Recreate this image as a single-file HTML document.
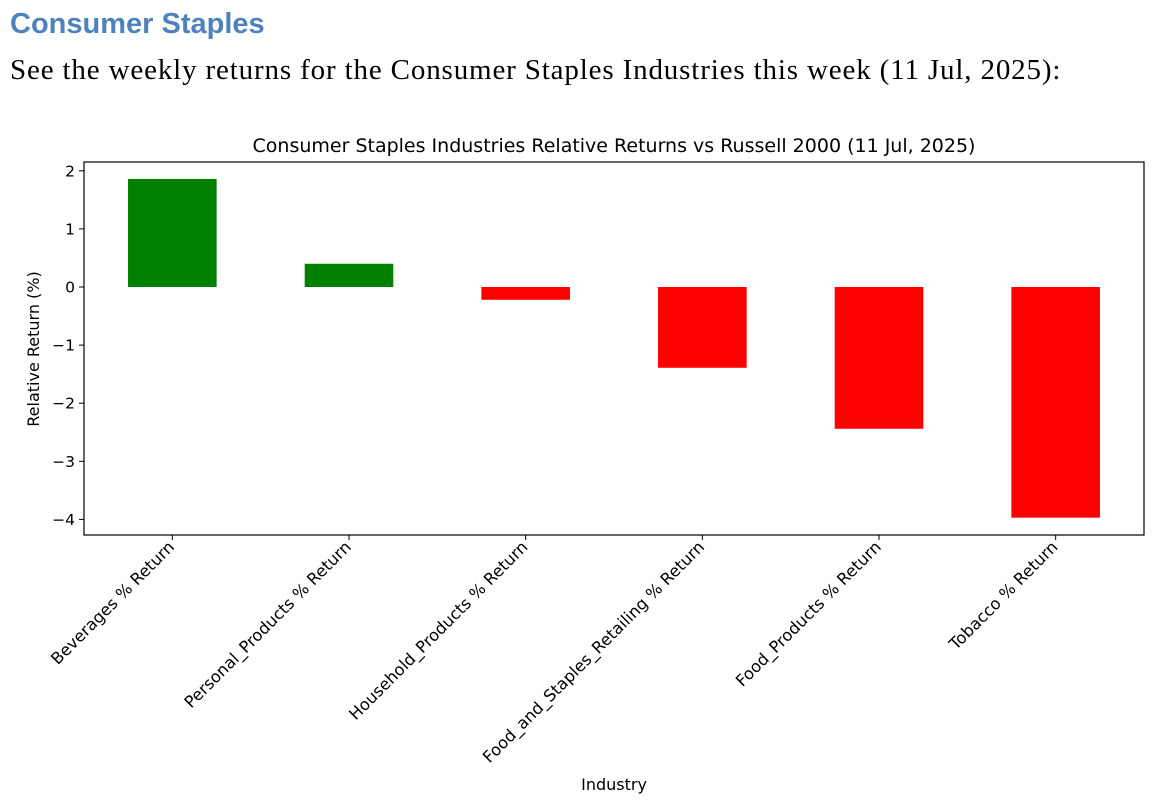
<!DOCTYPE html>
<html><head><meta charset="utf-8"><style>
body{margin:0;background:#fff;width:1160px;height:806px;overflow:hidden;position:relative}
#h{position:absolute;left:10px;top:8px;font:bold 29px "Liberation Sans",sans-serif;color:#4f81bd;margin:0}
#s{position:absolute;left:10px;top:54px;font:29px "Liberation Serif",serif;letter-spacing:0.85px;color:#000;margin:0;white-space:nowrap}
svg{position:absolute;left:0;top:0}
text{font-family:"DejaVu Sans","Liberation Sans",sans-serif;fill:#000}
</style></head><body>
<h1 id="h">Consumer Staples</h1>
<p id="s">See the weekly returns for the Consumer Staples Industries this week (11 Jul, 2025):</p>
<svg id="c" width="1160" height="806"></svg>
<script>
const categories=["Beverages % Return","Personal_Products % Return","Household_Products % Return","Food_and_Staples_Retailing % Return","Food_Products % Return","Tobacco % Return"];
const values=[1.86,0.40,-0.22,-1.39,-2.44,-3.97];
const yTicks=[2,1,0,-1,-2,-3,-4];
const yTickLabels=["2","1","0","\u22121","\u22122","\u22123","\u22124"];
const NS="http://www.w3.org/2000/svg",svg=document.getElementById('c');
const L=84,R=1144,T=162,B=535,y0=287,unit=58.1;
const y=v=>y0-v*unit;
const step=(R-L)/categories.length;
const x=i=>L+step*(i+0.5);
const bw=88.6;
function mk(t,a,txt){const e=document.createElementNS(NS,t);for(const k in a)e.setAttribute(k,a[k]);if(txt!=null)e.textContent=txt;svg.appendChild(e);return e;}
values.forEach((v,i)=>{
 const r=mk('rect',{x:x(i)-bw/2,y:Math.min(y(v),y(0)),width:bw,height:Math.abs(y(v)-y(0)),fill:v>=0?'#008000':'#ff0000'});
 
 
});
mk('rect',{x:L,y:T,width:R-L,height:B-T,fill:'none',stroke:'#000','stroke-width':1.2});
yTicks.forEach((t,i)=>{
 mk('line',{x1:L-5,x2:L,y1:y(t),y2:y(t),stroke:'#000'});
 const e=mk('text',{x:L-9,y:y(t)+5.5,'text-anchor':'end','font-size':15.5},yTickLabels[i]);
 
 
});
categories.forEach((c,i)=>{
 mk('line',{x1:x(i),x2:x(i),y1:B,y2:B+5,stroke:'#000'});
 const e=mk('text',{transform:`translate(${x(i)+3},${B+13}) rotate(-45)`,'text-anchor':'end','font-size':16.3},c);
 
 
});
let e=mk('text',{x:614,y:152,'text-anchor':'middle','font-size':19},"Consumer Staples Industries Relative Returns vs Russell 2000 (11 Jul, 2025)");


e=mk('text',{x:614,y:790,'text-anchor':'middle','font-size':16},"Industry");


e=mk('text',{transform:'translate(39,349) rotate(-90)','text-anchor':'middle','font-size':16},"Relative Return (%)");


</script>
</body></html>
